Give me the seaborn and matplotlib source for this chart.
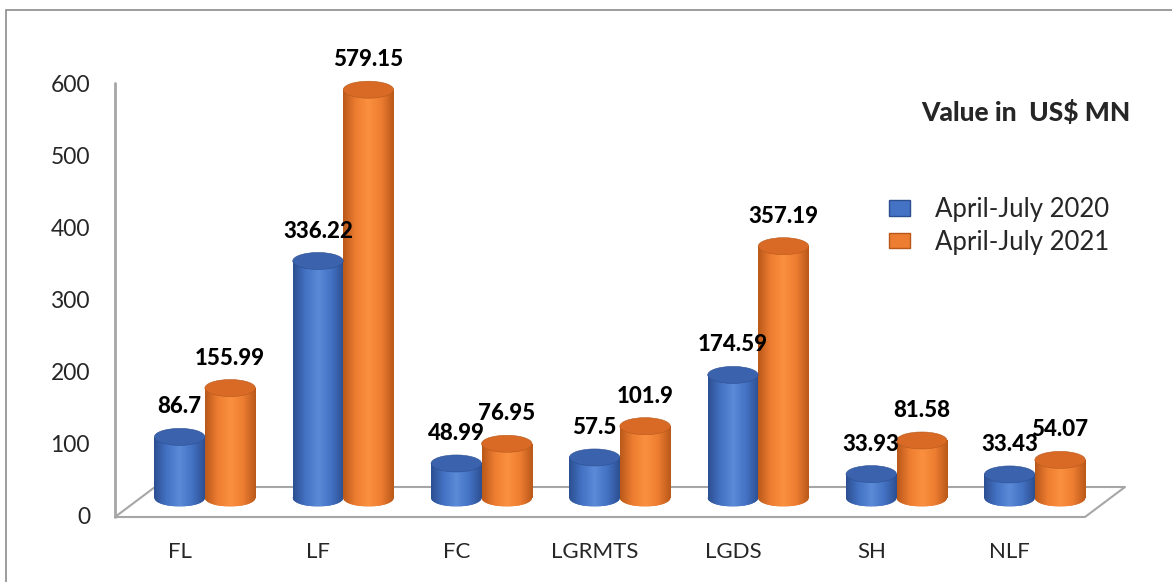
import numpy as np
import pandas as pd
import matplotlib
matplotlib.use('Agg')
import matplotlib.pyplot as plt
import matplotlib.transforms as mtransforms
from matplotlib.colors import LinearSegmentedColormap
from matplotlib.patches import Ellipse, Rectangle
from matplotlib.lines import Line2D
import seaborn as sns

categories = ['FL', 'LF', 'FC', 'LGRMTS', 'LGDS', 'SH', 'NLF']
series_names = ['April-July 2020', 'April-July 2021']
values_2020 = [86.7, 336.22, 48.99, 57.5, 174.59, 33.93, 33.43]
values_2021 = [155.99, 579.15, 76.95, 101.9, 357.19, 81.58, 54.07]
label_2020 = ['86.7', '336.22', '48.99', '57.5', '174.59', '33.93', '33.43']
label_2021 = ['155.99', '579.15', '76.95', '101.9', '357.19', '81.58', '54.07']
y_ticks = [0, 100, 200, 300, 400, 500, 600]
unit_title = 'Value in  US$ MN'

# colours: base, light, dark, cap
shades = {
    'April-July 2020': ('#4472c4', '#5b8ad8', '#2c4f91', '#3a62ad'),
    'April-July 2021': ('#ed7d31', '#fb9040', '#b9581a', '#d86a26'),
}

df = pd.DataFrame({
    'category': categories * 2,
    'series': [series_names[0]] * len(categories) + [series_names[1]] * len(categories),
    'value': values_2020 + values_2021,
})

sns.set_style('white')
plt.rcParams['font.family'] = ['Lato', 'DejaVu Sans']

W, H = 1172, 582
fig = plt.figure(figsize=(W / 100, H / 100), dpi=100)


def fx(px):
    return px / W


def fy(py):
    return 1 - py / H


# the value scale sits on the back wall (0 at 516px, 600 at 83px)
ax_scale = fig.add_axes([fx(115), fy(516), 0.01, fy(83) - fy(516)])
ax_scale.patch.set_visible(False)
ax_scale.set_ylim(0, 600)
ax_scale.set_yticks(y_ticks)
ax_scale.set_yticklabels([str(t) for t in y_ticks], fontsize=16.5)
ax_scale.set_xticks([])
ax_scale.tick_params(axis='y', length=0, pad=0)
for s in ax_scale.spines.values():
    s.set_visible(False)
nudge = mtransforms.ScaledTranslation(-25 / 100, 0, fig.dpi_scale_trans)
for t in ax_scale.get_yticklabels():
    t.set_transform(t.get_transform() + nudge)

# bars are drawn in perspective: 0 at 498px, 600 at 75px, room below zero for the cylinder bottoms
ymin = -15
zero_px, top_px = 498, 75
ppu = (zero_px - top_px) / 600.0
ax_bottom_px = zero_px + (-ymin) * ppu
ax = fig.add_axes([fx(115), fy(ax_bottom_px), fx(1104) - fx(115), fy(top_px) - fy(ax_bottom_px)])
ax.patch.set_visible(False)

sns.barplot(data=df, x='category', y='value', hue='series', order=categories,
            hue_order=series_names, palette={k: v[0] for k, v in shades.items()},
            width=0.73, ax=ax, legend=False, saturation=1)

cap_h = 17 / ppu
grad = np.linspace(0, 1, 256).reshape(1, -1)
for cont, name, labels in zip(ax.containers, series_names, [label_2020, label_2021]):
    base, light, dark, cap = shades[name]
    cmap = LinearSegmentedColormap.from_list(name, [dark, base, light, base, dark])
    for bar, lab in zip(cont, labels):
        x0, w, h = bar.get_x(), bar.get_width(), bar.get_height()
        cx = x0 + w / 2
        bar.set_edgecolor('none')
        # bottom of cylinder
        bottom = Ellipse((cx, 0), w, cap_h, facecolor=base, edgecolor='none', zorder=2)
        ax.add_patch(bottom)
        im = ax.imshow(grad, extent=[x0, x0 + w, -cap_h / 2, cap_h / 2], cmap=cmap,
                       aspect='auto', zorder=2.1, interpolation='bilinear')
        im.set_clip_path(bottom)
        # body
        im2 = ax.imshow(grad, extent=[x0, x0 + w, 0, h], cmap=cmap,
                        aspect='auto', zorder=2.2, interpolation='bilinear')
        im2.set_clip_path(bar)
        bar.set_zorder(2.15)
        # top cap
        ax.add_patch(Ellipse((cx, h), w, cap_h, facecolor=cap, edgecolor=dark,
                             linewidth=0.4, zorder=2.3))
        ax.annotate(lab, (cx, h), xytext=(0, 14), textcoords='offset points',
                    ha='center', va='bottom', fontsize=16, fontweight='black',
                    color='black', zorder=3)

ax.set_xlim(-0.65, len(categories) - 0.5)
ax.set_ylim(ymin, 600)
ax.set_yticks([])
ax.set_xlabel('')
ax.set_ylabel('')
ax.tick_params(axis='x', length=0, pad=0, labelsize=16)
for s in ax.spines.values():
    s.set_visible(False)

shift = mtransforms.ScaledTranslation(-25 / 100, -33 / 100, fig.dpi_scale_trans)
for t in ax.get_xticklabels():
    t.set_transform(t.get_transform() + shift)

# floor and wall lines
grey = '#a6a6a6'
floor = [(115, 517), (1085, 517), (1125, 487), (155, 487), (115, 517)]
fig.add_artist(Line2D([fx(p[0]) for p in floor], [fy(p[1]) for p in floor],
                      color=grey, lw=1.5, zorder=-1))
fig.add_artist(Line2D([fx(115), fx(115)], [fy(83), fy(517)], color=grey, lw=2, zorder=-1))

# outer chart border
fig.add_artist(Rectangle((fx(6), -0.01), 1.0, fy(10) + 0.01, transform=fig.transFigure,
                         fill=False, edgecolor='#8c8c8c', lw=1.2))

# legend
handles = [Rectangle((0, 0), 1, 1, facecolor=shades[n][0], edgecolor=shades[n][2], lw=1)
           for n in series_names]
fig.legend(handles, series_names, loc='upper left', bbox_to_anchor=(fx(866), fy(174)),
           frameon=False, fontsize=18.5, handlelength=0.8, handleheight=0.55,
           handletextpad=1.0, labelspacing=0.3)
fig.text(fx(1130), fy(113), unit_title, ha='right', va='center', fontsize=19,
         fontweight='black')

fig.savefig('out.png', dpi=100)
